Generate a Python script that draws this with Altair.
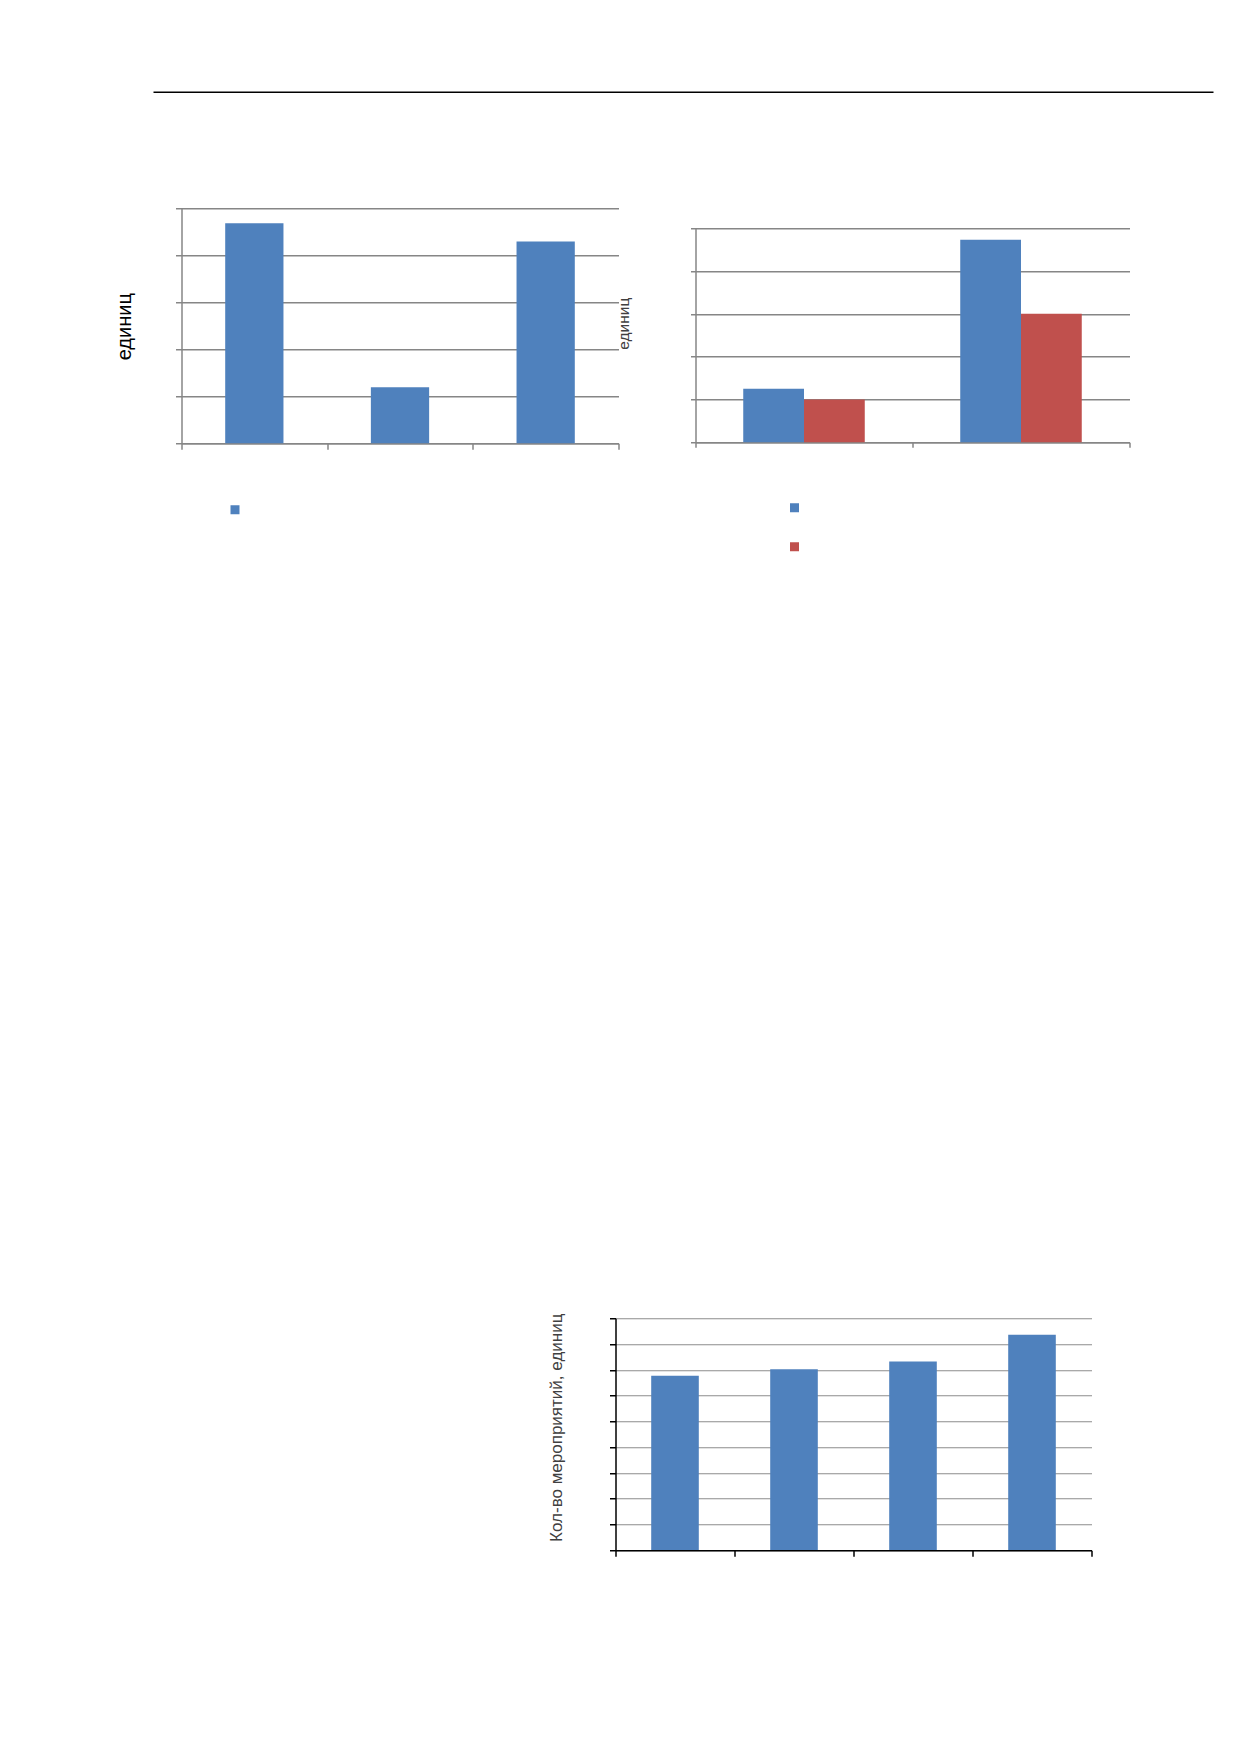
import altair as alt
import pandas as pd

BLUE = "#4F81BD"
RED = "#C0504D"
GRAY = "#868686"
FONT = "Liberation Sans"

# ---- data (category names are not legible in the source, placeholders used) ----
c1_categories = ["Категория 1", "Категория 2", "Категория 3"]
c1_series = ["Ряд 1"]
c1_values = [46.8, 11.9, 42.9]
c1_ticks = [0, 10, 20, 30, 40, 50]

c2_categories = ["Категория 1", "Категория 2"]
c2_series = ["Ряд 1", "Ряд 2"]
c2_values_1 = [12.5, 47.3]
c2_values_2 = [10.0, 30.0]
c2_ticks = [0, 10, 20, 30, 40, 50]

c3_categories = ["Период 1", "Период 2", "Период 3", "Период 4"]
c3_values = [67.7, 70.2, 73.2, 83.6]
c3_ticks = [0, 10, 20, 30, 40, 50, 60, 70, 80, 90]

c1_title = "единиц"
c2_title = "единиц"
c3_title = "Кол-во мероприятий, единиц"

# ---- tables ----
df1 = pd.DataFrame({"cat": c1_categories, "val": c1_values, "series": c1_series[0]})
df1["start"] = [i + 0.3 for i in range(len(df1))]
df1["end"] = df1["start"] + 0.4

rows2 = []
for i, cat in enumerate(c2_categories):
    for s, (name, vals) in enumerate(zip(c2_series, [c2_values_1, c2_values_2])):
        st = i + 0.22 + s * 0.28
        rows2.append({"cat": cat, "series": name, "val": vals[i], "start": st, "end": st + 0.28})
df2 = pd.DataFrame(rows2)

df3 = pd.DataFrame({"cat": c3_categories, "val": c3_values})
df3["start"] = [i + 0.3 for i in range(len(df3))]
df3["end"] = df3["start"] + 0.4

one = pd.DataFrame({"a": [0]})


def x_axis(n, color, tick, z=0):
    return alt.Axis(values=list(range(n + 1)), labels=False, grid=False, ticks=True,
                    tickSize=tick, tickColor=color, tickWidth=1.5, domain=True,
                    domainColor=color, domainWidth=1.5, title=None, zindex=z)


def y_axis(values, title, size, color, tx, ty, axis_color, grid_color, grid_w, tick):
    return alt.Axis(values=values, labels=False, grid=True, gridColor=grid_color,
                    gridWidth=grid_w, ticks=True, tickSize=tick, tickColor=axis_color,
                    tickWidth=1.5, domain=True, domainColor=axis_color, domainWidth=1.5,
                    title=title, titleFont=FONT, titleFontSize=size, titleFontWeight="normal",
                    titleColor=color, titleAngle=270, titleAlign="center",
                    titleBaseline="middle", titleX=tx, titleY=ty)


def legend(lx, ly):
    return alt.Legend(orient="none", legendX=lx, legendY=ly, title=None, labelExpr="''",
                      symbolType="square", symbolSize=81, symbolStrokeWidth=0,
                      labelFontSize=8, padding=0, rowPadding=30)


def anchor(x, y):
    return alt.Chart(one).mark_rule(color="white", strokeWidth=1).encode(
        x=alt.value(x), x2=alt.value(x + 1), y=alt.value(y))


# ---- top rule ----
top_rule = alt.Chart(one).mark_rule(color="black", strokeWidth=1.5).encode(
    x=alt.value(-28), x2=alt.value(1032), y=alt.value(0))
rule_view = alt.layer(top_rule, anchor(-100, 0)).properties(width=437, height=1)

# ---- chart 1 ----
bars1 = alt.Chart(df1).mark_bar().encode(
    x=alt.X("start:Q", scale=alt.Scale(domain=[0, len(c1_categories)], nice=False),
            axis=x_axis(len(c1_categories), GRAY, 6)),
    x2="end:Q",
    y=alt.Y("val:Q", scale=alt.Scale(domain=[0, 50], nice=False),
            axis=y_axis(c1_ticks, c1_title, 20, "black", -57.5, 118, GRAY, GRAY, 1.5, 6)),
    y2=alt.datum(0),
    color=alt.Color("series:N", scale=alt.Scale(domain=c1_series, range=[BLUE]),
                    legend=legend(49, 297)),
)
c1 = alt.layer(bars1, anchor(-100, 989.5)).properties(width=437, height=235)

# ---- chart 2 ----
bars2 = alt.Chart(df2).mark_bar().encode(
    x=alt.X("start:Q", scale=alt.Scale(domain=[0, len(c2_categories)], nice=False),
            axis=x_axis(len(c2_categories), GRAY, 5)),
    x2="end:Q",
    y=alt.Y("val:Q", scale=alt.Scale(domain=[0, 50], nice=False, range=[234, 20]),
            axis=y_axis(c2_ticks, c2_title, 15.5, "#404040", -72, 115, GRAY, GRAY, 1.5, 5)),
    y2=alt.datum(0),
    color=alt.Color("series:N", scale=alt.Scale(domain=c2_series, range=[BLUE, RED]),
                    legend=legend(94.5, 295)),
)
c2 = bars2.properties(width=434, height=234)

# ---- chart 3 ----
spacer = alt.Chart(one).mark_rule(color="white", strokeWidth=1).encode(
    x=alt.value(0), x2=alt.value(362), y=alt.value(0)).properties(width=300, height=1)

bars3 = alt.Chart(df3).mark_bar(color=BLUE).encode(
    x=alt.X("start:Q", scale=alt.Scale(domain=[0, len(c3_categories)], nice=False),
            axis=x_axis(len(c3_categories), "black", 6, 1)),
    x2="end:Q",
    y=alt.Y("val:Q", scale=alt.Scale(domain=[0, 90], nice=False),
            axis=y_axis(c3_ticks, c3_title, 17, "#404040", -59, 109, "black", "#8C8C8C", 1.2, 6)),
    y2=alt.datum(0),
)
c3 = alt.layer(bars3, anchor(-70, 0)).properties(width=476, height=232)

row_b = alt.hconcat(c1, c2, spacing=-3).resolve_scale(color="independent")
row_c = alt.hconcat(spacer, c3, spacing=0)

chart = alt.vconcat(rule_view, row_b, row_c, spacing=114).resolve_scale(
    color="independent"
).properties(
    padding={"left": 72.5, "top": 83.25, "right": 5, "bottom": 5},
    background="white",
).configure(font=FONT).configure_view(stroke=None)

chart.save("out.html", embed_options={"renderer": "svg", "actions": False})
